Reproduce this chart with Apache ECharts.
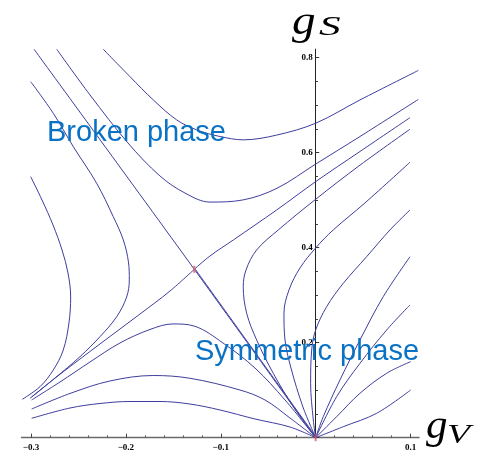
<!DOCTYPE html>
<html>
<head>
<meta charset="utf-8">
<script src="https://cdn.jsdelivr.net/npm/echarts@6/dist/echarts.min.js"></script>
<style>
html,body{margin:0;padding:0;background:#fff;}
#c{width:485px;height:455px;}
</style>
</head>
<body>
<div id="c"></div>
<script>
// ---- data (gV, gS) ----
const xTicks = [-0.3, -0.2, -0.1, 0, 0.1];
const yTicks = [0, 0.2, 0.4, 0.6, 0.8];

const curveA1 = [[-0.2238,0.8177],[-0.1957,0.760],[-0.1711,0.711],[-0.1465,0.669],[-0.1254,0.648],[-0.1008,0.634],[-0.0763,0.627],[-0.0411,0.637],[0,0.662],[0.0467,0.711],[0.1081,0.773]];
const curveA2 = [[-0.2729,0.8177],[-0.2378,0.7215],[-0.1978,0.6204],[-0.1641,0.551],[-0.1377,0.515],[-0.1114,0.496],[-0.0766,0.5005],[-0.0408,0.525],[0,0.576],[0.0467,0.634],[0.1081,0.712]];
const curveB  = [[-0.2968,0.8177],[-0.1279,0.3545],[0,0]];
const curveCLow = [[-0.3011,0.0829],[-0.2694,0.1335],[-0.2273,0.1973],[-0.1851,0.2604],[-0.1535,0.3088],[-0.1279,0.3545]];
const curveCLowOut = [[-0.1268,0.3545],[0.0009,0]];
const curveCUp = [[-0.1279,0.3545],[-0.1114,0.3825],[-0.0868,0.4162],[-0.0411,0.4794],[0,0.539],[0.0467,0.6025],[0.0994,0.6737]];
const curveD = [[-0.3003,0.5495],[-0.2884,0.5004],[-0.2768,0.4478],[-0.2673,0.3952],[-0.261,0.3467],[-0.2582,0.2962],[-0.26,0.2415],[-0.266,0.1846],[-0.2765,0.1425],[-0.2905,0.1074],[-0.3092,0.0808]];
const curveF = [[-0.3003,0.7495],[-0.2765,0.6829],[-0.2554,0.6126],[-0.2308,0.5356],[-0.2133,0.4653],[-0.2027,0.4162],[-0.1973,0.3699],[-0.1964,0.332],[-0.1992,0.2962],[-0.2097,0.2547],[-0.2273,0.2126],[-0.2484,0.1705],[-0.2747,0.1257],[-0.2993,0.0857]];
const curveE = [[-0.2993,0.0794],[-0.2694,0.1173],[-0.2378,0.1594],[-0.2062,0.1994],[-0.1746,0.2278],[-0.1504,0.2395],[-0.1272,0.2345],[-0.0977,0.1994],[-0.064,0.1467],[-0.0323,0.0794],[0,0]];
const curveG = [[-0.2993,0.0604],[-0.2589,0.0931],[-0.2168,0.1194],[-0.1711,0.1309],[-0.1325,0.1251],[-0.0798,0.1004],[-0.0534,0.0794],[-0.0271,0.0415],[0,0]];
const curveH = [[-0.2993,0.0408],[-0.2589,0.0625],[-0.2273,0.072],[-0.1957,0.0762],[-0.1641,0.0762],[-0.1325,0.0709],[-0.1008,0.0583],[-0.064,0.0394],[-0.0271,0.0225],[0,0]];
const curveI = [[0.0994,0.6493],[0.0467,0.5737],[0,0.5019],[-0.0394,0.4373],[-0.0622,0.3952],[-0.0734,0.3531],[-0.0763,0.3179],[-0.0727,0.2619],[-0.0622,0.2057],[-0.0447,0.1356],[-0.0236,0.0653],[0,0]];
const curveJ = [[0.0994,0.5798],[0.0519,0.4941],[0.0185,0.4373],[0,0.3994],[-0.0165,0.3573],[-0.0281,0.311],[-0.0334,0.2625],[-0.0323,0.2057],[-0.026,0.1467],[-0.0134,0.0646],[0,0]];
const curveK = [[0.0994,0.4794],[0.0783,0.4373],[0.0537,0.381],[0.0291,0.325],[0.0116,0.2758],[0,0.2267],[-0.0042,0.1846],[-0.0053,0.1145],[-0.0025,0.0373],[0,0]];
const curveL = [[0.0994,0.381],[0.0712,0.2968],[0.0467,0.2057],[0.0256,0.1215],[0.008,0.0442],[0,0]];
const curveM = [[0.0994,0.2794],[0.0748,0.2267],[0.0467,0.1566],[0.0221,0.0863],[0,0]];
const curveN = [[0.1001,0.16],[0.0748,0.1356],[0.0467,0.0935],[0.0221,0.0442],[0,0]];
const curveO = [[0.1001,0.1004],[0.0643,0.0514],[0.0291,0.0232],[0,0]];
const fixedPoints = [[-0.1279,0.3545],[0,0]];

const curves = [curveA1, curveA2, curveB, curveCLow, curveCLowOut, curveCUp, curveD, curveF, curveE, curveG, curveH, curveI, curveJ, curveK, curveL, curveM, curveN, curveO];

// ---- chart ----
const chart = echarts.init(document.getElementById('c'), null, {renderer: 'canvas'});
const lineColor = '#3e3e9e';
const fmt = v => {
  if (Math.abs(v) < 1e-9) return '';
  const s = Math.abs(v).toFixed(1);
  return (v < 0 ? '\u2212' : '') + s;
};
const labelFont = {fontFamily: 'Liberation Serif', fontWeight: 'bold', fontSize: 9, color: '#000'};

const series = curves.map(c => ({
  type: 'line', xAxisIndex: 0, yAxisIndex: 0, data: c,
  showSymbol: false, symbol: 'none', smooth: 0.35, clip: false,
  lineStyle: {color: lineColor, width: 1}, z: 3, silent: true
}));
series.push({
  type: 'scatter', xAxisIndex: 0, yAxisIndex: 0, data: fixedPoints,
  symbol: 'rect', symbolSize: [2, 7], clip: false,
  itemStyle: {color: '#e4585c'}, z: 5, silent: true
});

chart.setOption({
  animation: false,
  backgroundColor: '#fff',
  grid: [
    {left: 21.5, right: 65.9, top: 49.1, bottom: 17.3},
    {left: 31.0, right: 74.4, top: 57.7, bottom: 17.3}
  ],
  xAxis: [
    {type: 'value', gridIndex: 0, min: -0.31, max: 0.109,
     axisLine: {show: true, onZero: false, lineStyle: {color: '#6a6a6a', width: 1.3}},
     axisTick: {show: false}, axisLabel: {show: false}, splitLine: {show: false}},
    {type: 'value', gridIndex: 1, min: xTicks[0], max: xTicks[xTicks.length - 1], interval: 0.1,
     axisLine: {show: true, onZero: false, lineStyle: {color: 'rgba(0,0,0,0)'}},
     axisTick: {show: true, inside: true, length: 4, lineStyle: {color: '#444', width: 1}},
     minorTick: {show: true, splitNumber: 5, length: 2.3, lineStyle: {color: '#555', width: 1}},
     axisLabel: Object.assign({margin: 5, formatter: fmt}, labelFont),
     splitLine: {show: false}, minorSplitLine: {show: false}}
  ],
  yAxis: [
    {type: 'value', gridIndex: 0, min: 0, max: 0.818,
     axisLine: {show: true, onZero: true, lineStyle: {color: '#222', width: 1}},
     axisTick: {show: false}, axisLabel: {show: false}, splitLine: {show: false}},
    {type: 'value', gridIndex: 1, min: yTicks[0], max: yTicks[yTicks.length - 1], interval: 0.2,
     position: 'left', offset: -284.7,
     axisLine: {show: true, onZero: false, lineStyle: {color: 'rgba(0,0,0,0)'}},
     axisTick: {show: true, inside: true, length: 3.5, lineStyle: {color: '#333', width: 1}},
     minorTick: {show: true, splitNumber: 4, length: 2.3, lineStyle: {color: '#444', width: 1}},
     axisLabel: Object.assign({margin: 3, formatter: fmt}, labelFont),
     splitLine: {show: false}, minorSplitLine: {show: false}}
  ],
  series: series,
  graphic: [
    {type: 'text', x: 47, y: 133, z: 20, silent: true,
     style: {text: 'Broken phase', font: '29px "Liberation Sans"', fill: '#0a72c4', verticalAlign: 'middle', align: 'left'}},
    {type: 'text', x: 195, y: 351.5, z: 20, silent: true,
     style: {text: 'Symmetric phase', font: '29px "Liberation Sans"', fill: '#0a72c4', verticalAlign: 'middle', align: 'left'}},
    {type: 'text', x: 292, y: 23, scaleX: 1.15, z: 20, silent: true,
     style: {text: 'g', font: 'italic 41px "Liberation Serif"', fill: '#000', verticalAlign: 'middle', align: 'left'}},
    {type: 'text', x: 319, y: 27.5, scaleX: 1.6, z: 20, silent: true,
     style: {text: 'S', font: 'italic 27px "Liberation Serif"', fill: '#000', verticalAlign: 'middle', align: 'left'}},
    {type: 'text', x: 426, y: 426.5, z: 20, silent: true,
     style: {text: 'g', font: 'italic 43px "Liberation Serif"', fill: '#000', verticalAlign: 'middle', align: 'left'}},
    {type: 'text', x: 447, y: 435.5, scaleX: 1.35, z: 20, silent: true,
     style: {text: 'V', font: 'italic 28px "Liberation Serif"', fill: '#000', verticalAlign: 'middle', align: 'left'}}
  ]
});
</script>
</body>
</html>
